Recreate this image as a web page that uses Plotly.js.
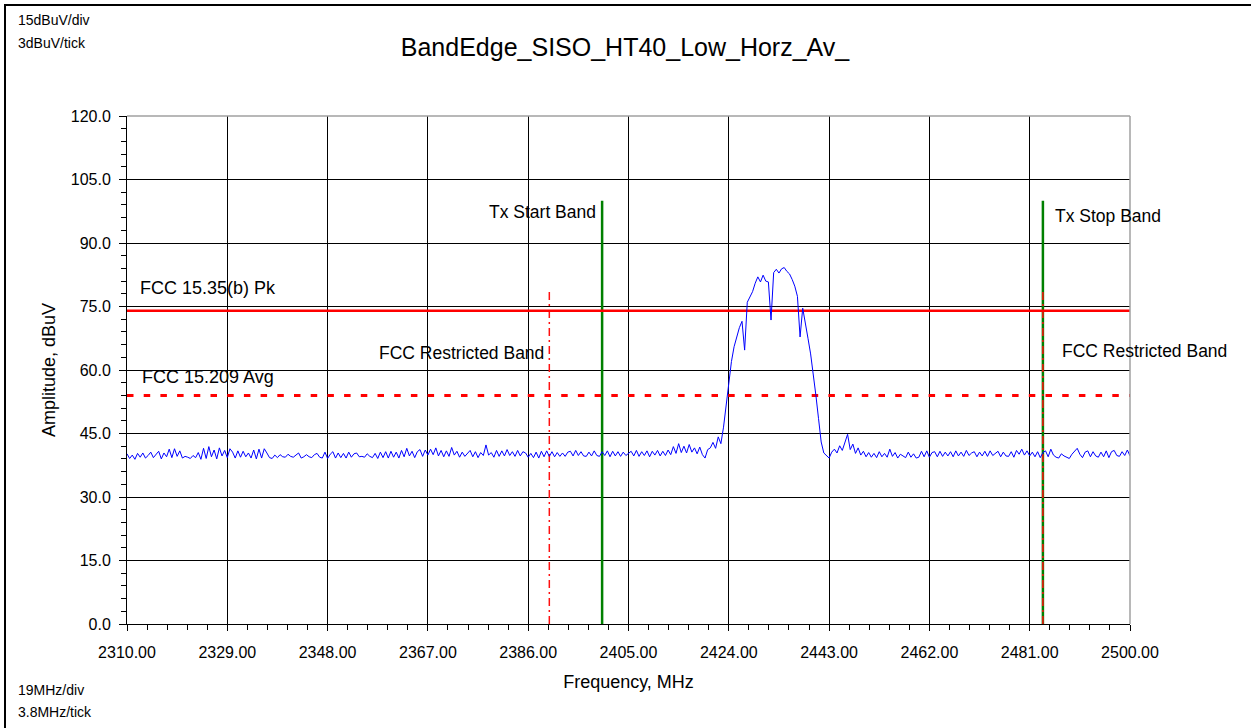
<!DOCTYPE html>
<html><head><meta charset="utf-8">
<script src="https://cdn.plot.ly/plotly-3.0.1.min.js"></script>
<style>html,body{margin:0;padding:0;background:#fff;} #chart{width:1251px;height:728px;}</style>
</head><body><div id="chart"></div>
<script>
// ---- data ----
const FREQ_START = 2310.0;   // MHz, first sweep point
const FREQ_STEP = 0.5;       // MHz between sweep points
const FREQ_RANGE = [2310, 2500];
const AMP_RANGE = [0, 120];
// measured amplitude, dBuV, one value every 0.5 MHz from 2310 to 2500 MHz
const amplitude = [
 40.2,39.1,39.9,38.9,40.3,39.4,40.4,39.2,39.8,40.6,
 39.3,40.1,40.8,39.0,40.4,39.5,41.3,39.3,41.4,39.6,
 40.9,39.2,39.6,39.4,39.1,39.8,39.3,40.5,38.9,41.5,
 39.1,41.9,39.5,41.1,39.0,41.6,39.7,41.0,39.3,41.4,
 40.6,
 39.2,40.9,39.4,40.8,39.5,40.4,39.2,41.1,39.0,41.3,
 39.2,41.4,40.4,39.3,39.1,39.9,39.3,40.0,39.5,39.4,
 40.1,39.6,39.4,39.9,40.4,39.2,39.5,40.0,39.5,39.3,
 40.0,40.3,39.4,39.2,40.6,39.1,40.1,40.7,39.2,40.4,
 39.3,40.3,39.2,40.6,39.4,40.2,40.4,39.5,39.6,39.4,
 40.2,39.6,39.3,40.3,39.1,40.6,39.3,40.7,39.2,40.8,
 39.4,40.6,39.2,41.0,39.5,41.5,39.7,40.8,39.3,40.7,
 41.2,39.6,41.1,39.9,41.3,40.0,41.6,39.7,41.0,39.5,
 40.9,39.6,41.7,39.9,40.8,39.4,40.6,39.6,40.3,41.0,
 39.5,40.7,39.3,40.5,39.8,42.3,39.9,40.5,39.4,41.0,
 39.6,40.9,39.7,41.2,39.8,40.7,39.6,41.0,39.7,40.7,
 40.4,39.4,40.3,39.3,40.6,39.2,40.8,39.5,40.9,39.6,
 40.7,39.5,40.5,39.6,40.4,39.6,40.6,40.8,39.7,41.0,
 39.8,40.7,39.7,39.6,40.6,39.7,40.9,39.8,39.6,40.7,
 39.8,40.9,39.5,40.8,39.7,40.7,39.6,40.6,39.8,40.4,
 40.8,39.7,41.0,39.6,40.7,39.8,40.9,39.5,40.8,39.9,
 41.0,39.7,40.8,39.8,41.1,40.0,41.9,40.3,42.6,40.5,
 42.0,40.4,42.4,40.6,41.6,40.2,41.8,40.0,39.2,41.2,
 41.6,42.9,41.5,44.2,42.6,46.5,51.5,56.5,62.0,65.5,
 68.0,70.0,71.5,64.7,76.0,77.3,78.5,80.5,82.0,80.8,
 82.4,81.0,80.8,71.8,83.0,83.8,82.9,83.9,84.2,83.3,
 82.7,81.4,79.8,77.4,67.8,74.6,71.5,67.5,63.8,59.5,
 54.0,48.5,43.0,40.4,39.8,39.2,40.6,41.3,40.4,42.1,
 41.0,42.8,44.8,41.2,42.5,40.3,41.6,39.9,40.8,39.5,
 40.5,39.4,40.3,39.3,40.7,39.5,40.3,39.4,41.3,39.6,
 40.5,39.2,40.1,39.7,39.3,40.6,39.4,40.2,39.2,39.4,
 40.8,39.5,40.9,39.4,40.5,40.7,39.5,40.8,39.6,40.6,
 39.7,40.7,39.5,40.9,39.7,40.6,39.6,41.0,39.8,40.4,
 40.7,39.5,40.6,39.7,40.8,39.6,40.9,39.8,40.4,40.8,
 39.5,40.6,39.7,39.6,40.7,39.4,41.0,40.1,41.3,39.9,
 40.9,39.7,40.6,39.5,40.7,39.3,40.5,40.9,39.5,41.3,
 39.9,39.4,39.2,40.2,39.7,39.3,39.1,40.1,40.7,41.5,
 40.1,39.3,40.6,40.9,39.5,40.7,39.7,39.4,40.6,39.5,
 40.9,39.3,40.7,41.0,39.8,39.6,40.7,39.8,41.1,39.7
];
const limitNames = ['FCC 15.35(b) Pk', 'FCC 15.209 Avg'];
const limitValues = [74, 54];
const txBandNames = ['Tx Start Band', 'Tx Stop Band'];
const txBandFreqs = [2400, 2483.5];
const txBandTop = 100;
const restrictedName = 'FCC Restricted Band';
const restrictedFreqs = [2390, 2483.5];
const restrictedTop = 79;
const titleText = 'BandEdge_SISO_HT40_Low_Horz_Av_';
const xTitle = 'Frequency, MHz';
const yTitle = 'Amplitude, dBuV';
const cornerTexts = ['15dBuV/div', '3dBuV/tick', '19MHz/div', '3.8MHz/tick'];

// ---- geometry ----
const W = 1251, H = 728, L = 127, R = 1130, T = 116, B = 624;
const px = v => (v - L) / (R - L);
const py = v => (B - v) / (B - T);
const FONT = '"Liberation Sans", Arial, Helvetica, sans-serif';

const traces = [];
// tx band edge markers
txBandFreqs.forEach(f => traces.push({
  x: [f, f], y: [AMP_RANGE[0], txBandTop], mode: 'lines',
  line: {color: '#008000', width: 2.5}, hoverinfo: 'skip'
}));
// restricted band markers
restrictedFreqs.forEach(f => traces.push({
  x: [f, f], y: [AMP_RANGE[0], restrictedTop], mode: 'lines',
  line: {color: '#ff1010', width: 1.5, dash: '8px,4px,2px,4px'}, hoverinfo: 'skip'
}));
// limit lines
traces.push({x: FREQ_RANGE, y: [limitValues[0], limitValues[0]], mode: 'lines',
  line: {color: '#ff0000', width: 2.5}, hoverinfo: 'skip'});
traces.push({x: FREQ_RANGE, y: [limitValues[1], limitValues[1]], mode: 'lines',
  line: {color: '#ff0000', width: 3, dash: '6.5px,10.2px'}, hoverinfo: 'skip'});
// measured trace
traces.push({y: amplitude, x0: FREQ_START, dx: FREQ_STEP, mode: 'lines',
  line: {color: '#0000ff', width: 1}, name: 'Trace'});

const ann = [];
const txt = (text, x, y, xanchor, size, extra) => Object.assign({
  text, x, y, xref: 'paper', yref: 'paper', xanchor, yanchor: 'middle',
  showarrow: false, font: {size, color: '#000', family: FONT}
}, extra || {});
ann.push(txt(cornerTexts[0], px(16), py(20), 'left', 14));
ann.push(txt(cornerTexts[1], px(16), py(43), 'left', 14));
ann.push(txt(cornerTexts[2], px(16), py(690), 'left', 14));
ann.push(txt(cornerTexts[3], px(16), py(712), 'left', 14));
ann.push(txt(limitNames[0], px(138), py(288), 'left', 18));
ann.push(txt(limitNames[1], px(140), py(377), 'left', 18));
ann.push(Object.assign(txt(txBandNames[0], txBandFreqs[0], py(212), 'right', 17.5, {xshift: -4}), {xref: 'x'}));
ann.push(Object.assign(txt(txBandNames[1], txBandFreqs[1], py(216), 'left', 17.5, {xshift: 10}), {xref: 'x'}));
ann.push(Object.assign(txt(restrictedName, restrictedFreqs[0], py(353), 'right', 17.5, {xshift: -3}), {xref: 'x'}));
ann.push(Object.assign(txt(restrictedName, restrictedFreqs[1], py(351), 'left', 17.5, {xshift: 17}), {xref: 'x'}));

const shapes = [
  // gray plot frame on top and right
  {type: 'line', xref: 'paper', yref: 'paper', x0: 0, x1: 1, y0: 1, y1: 1, line: {color: '#a0a0a0', width: 1.5}, layer: 'above'},
  {type: 'line', xref: 'paper', yref: 'paper', x0: 1, x1: 1, y0: 0, y1: 1, line: {color: '#a0a0a0', width: 1.5}, layer: 'above'},
  // outer frame
  {type: 'rect', xref: 'paper', yref: 'paper', x0: px(5), x1: px(1300), y0: py(5), y1: py(800), line: {color: '#000', width: 2}, layer: 'above'}
];

const axisCommon = {
  showgrid: true, gridcolor: '#000', gridwidth: 1,
  showline: true, linecolor: '#000', linewidth: 1,
  ticks: 'outside', tickcolor: '#000', tickwidth: 1,
  zeroline: false, fixedrange: true,
  tickfont: {size: 16, color: '#000', family: FONT}
};

const layout = {
  width: W, height: H,
  margin: {l: L, r: W - R, t: T, b: H - B, pad: 0},
  paper_bgcolor: '#ffffff', plot_bgcolor: '#ffffff',
  showlegend: false,
  font: {family: FONT, color: '#000'},
  title: {text: titleText, font: {size: 25, color: '#000', family: FONT},
    xref: 'container', yref: 'container', x: 625 / W, xanchor: 'center', y: 1 - 47 / H, yanchor: 'middle'},
  xaxis: Object.assign({}, axisCommon, {
    range: FREQ_RANGE, tick0: FREQ_RANGE[0], dtick: 19, tickformat: '.2f', ticklen: 6, ticklabelstandoff: 8,
    minor: {dtick: 3.8, tick0: FREQ_RANGE[0], ticks: 'outside', ticklen: 5, tickcolor: '#000', tickwidth: 1, showgrid: false},
    title: {text: xTitle, font: {size: 18, color: '#000', family: FONT}, standoff: 15}
  }),
  yaxis: Object.assign({}, axisCommon, {
    range: AMP_RANGE, tick0: 0, dtick: 15, tickformat: '.1f', ticklen: 7, ticklabelstandoff: 5,
    minor: {dtick: 3, tick0: 0, ticks: 'outside', ticklen: 5, tickcolor: '#000', tickwidth: 1, showgrid: false},
    title: {text: yTitle, font: {size: 18, color: '#000', family: FONT}, standoff: 10}
  }),
  annotations: ann,
  shapes: shapes
};

Plotly.newPlot('chart', traces, layout, {displayModeBar: false, staticPlot: true});
</script>
</body></html>
